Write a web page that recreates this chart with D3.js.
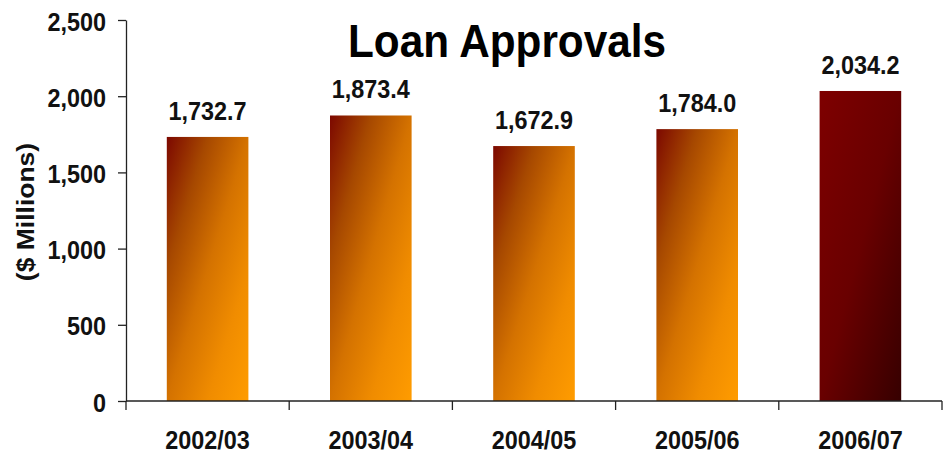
<!DOCTYPE html>
<html>
<head>
<meta charset="utf-8">
<script src="https://cdn.jsdelivr.net/npm/d3@7"></script>
<style>
  body { margin: 0; background: #fff; }
  svg { display: block; font-family: "Liberation Sans", Arial, sans-serif; font-weight: bold; }
</style>
</head>
<body>
<svg id="chart" width="951" height="454"></svg>
<script>
const years = ["2002/03", "2003/04", "2004/05", "2005/06", "2006/07"];
const approvals = [1732.7, 1873.4, 1672.9, 1784.0, 2034.2];
const yTicks = [0, 500, 1000, 1500, 2000, 2500];

const svg = d3.select("#chart");
const margin = { top: 20, right: 9, bottom: 53, left: 126 };
const width = +svg.attr("width") - margin.left - margin.right;
const height = +svg.attr("height") - margin.top - margin.bottom;
const squeeze = 0.9; // text in the original is a bit narrow

// gradients, top-left to bottom-right of each bar
const defs = svg.append("defs");
const orange = defs.append("linearGradient")
  .attr("id", "grad-orange")
  .attr("x1", 0).attr("y1", 0).attr("x2", 1).attr("y2", 1);
[["0%", "#7c0800"], ["25%", "#a64800"], ["50%", "#d47200"], ["75%", "#f08c00"], ["100%", "#ff9c00"]]
  .forEach(([o, c]) => orange.append("stop").attr("offset", o).attr("stop-color", c));

const maroon = defs.append("linearGradient")
  .attr("id", "grad-maroon")
  .attr("x1", 0).attr("y1", 0).attr("x2", 1).attr("y2", 1);
[["0%", "#7e0000"], ["50%", "#690000"], ["100%", "#360000"]]
  .forEach(([o, c]) => maroon.append("stop").attr("offset", o).attr("stop-color", c));

const g = svg.append("g")
  .attr("transform", `translate(${margin.left},${margin.top})`);

const x = d3.scaleBand()
  .domain(years)
  .range([0, width])
  .paddingInner(0.5)
  .paddingOuter(0.25);

const y = d3.scaleLinear()
  .domain([0, 2500])
  .range([height, 0]);

// bars
g.selectAll("rect.bar")
  .data(years)
  .join("rect")
  .attr("class", "bar")
  .attr("x", d => x(d))
  .attr("width", x.bandwidth())
  .attr("y", (d, i) => y(approvals[i]))
  .attr("height", (d, i) => height - y(approvals[i]))
  .attr("fill", (d, i) => i === years.length - 1 ? "url(#grad-maroon)" : "url(#grad-orange)");

// value labels
g.selectAll("text.value")
  .data(years)
  .join("text")
  .attr("class", "value")
  .attr("transform", (d, i) => `translate(${x(d) + x.bandwidth() / 2},${y(approvals[i]) - 17}) scale(${squeeze},1)`)
  .attr("text-anchor", "middle")
  .attr("font-size", "26px")
  .attr("fill", "#111")
  .text((d, i) => d3.format(",.1f")(approvals[i]));

// y axis
const yAxis = g.append("g")
  .call(d3.axisLeft(y).tickValues(yTicks).tickSize(8).tickSizeOuter(0).tickFormat(d3.format(",")));
yAxis.select(".domain").attr("stroke", "#222").attr("stroke-width", 1.3);
yAxis.selectAll(".tick line").attr("stroke", "#222").attr("stroke-width", 1.3);
yAxis.selectAll(".tick text")
  .attr("x", null).attr("dy", null)
  .attr("transform", `translate(-20,10) scale(${squeeze},1)`)
  .attr("font-size", "26px")
  .attr("font-family", "Liberation Sans, Arial, sans-serif")
  .attr("font-weight", "bold")
  .attr("fill", "#111");

// x axis: line with ticks on band boundaries
const xAxis = g.append("g").attr("transform", `translate(0,${height})`);
xAxis.append("line")
  .attr("x1", 0).attr("x2", width)
  .attr("stroke", "#222").attr("stroke-width", 1.3);
xAxis.selectAll("line.tick")
  .data(d3.range(years.length + 1))
  .join("line")
  .attr("class", "tick")
  .attr("x1", i => i * x.step()).attr("x2", i => i * x.step())
  .attr("y1", 0).attr("y2", 9)
  .attr("stroke", "#222").attr("stroke-width", 1.3);
xAxis.selectAll("text")
  .data(years)
  .join("text")
  .attr("transform", d => `translate(${x(d) + x.bandwidth() / 2},48) scale(${squeeze},1)`)
  .attr("text-anchor", "middle")
  .attr("font-size", "26px")
  .attr("fill", "#111")
  .text(d => d);

// y axis title
svg.append("text")
  .attr("transform", `translate(34,212) scale(${squeeze},1) rotate(-90)`)
  .attr("text-anchor", "middle")
  .attr("font-size", "26.5px")
  .attr("fill", "#111")
  .text("($ Millions)");

// chart title
svg.append("text")
  .attr("transform", `translate(507,57) scale(${squeeze},1)`)
  .attr("text-anchor", "middle")
  .attr("font-size", "47px")
  .attr("fill", "#000")
  .text("Loan Approvals");
</script>
</body>
</html>
